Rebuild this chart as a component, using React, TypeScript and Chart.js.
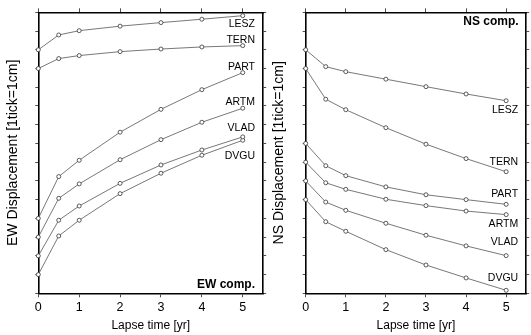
import React, { useEffect, useRef } from "react";
import { Chart, registerables } from "chart.js";

Chart.register(...registerables);

const times = [0, 0.5, 1, 2, 3, 4, 5];
const stations = ["LESZ", "TERN", "PART", "ARTM", "VLAD", "DVGU"];
const xTicks = [0, 1, 2, 3, 4, 5];
const yTicks = [0, 1, 2, 3, 4, 5, 6, 7, 8, 9, 10, 11, 12, 13, 14, 15];

const ewLESZ = [13.0, 13.79, 14.02, 14.26, 14.45, 14.63, 14.82];
const ewTERN = [12.0, 12.53, 12.69, 12.9, 13.04, 13.15, 13.22];
const ewPART = [4.0, 6.23, 7.1, 8.6, 9.82, 10.87, 11.78];
const ewARTM = [3.0, 5.07, 5.84, 7.13, 8.2, 9.13, 9.88];
const ewVLAD = [2.0, 3.9, 4.66, 5.87, 6.85, 7.65, 8.35];
const ewDVGU = [1.0, 3.06, 3.9, 5.32, 6.41, 7.37, 8.17];

const nsLESZ = [13.0, 12.1, 11.83, 11.43, 11.03, 10.64, 10.28];
const nsTERN = [12.0, 10.36, 9.8, 8.84, 7.96, 7.19, 6.49];
const nsPART = [8.0, 6.81, 6.28, 5.68, 5.26, 5.0, 4.75];
const nsARTM = [7.0, 5.9, 5.55, 5.02, 4.68, 4.39, 4.2];
const nsVLAD = [6.0, 4.87, 4.43, 3.74, 3.1, 2.53, 2.01];
const nsDVGU = [5.0, 3.82, 3.31, 2.33, 1.51, 0.82, 0.16];

const ewLabelY = [14.38, 13.49, 12.1, 10.18, 8.84, 7.31];
const nsLabelY = [9.79, 6.99, 5.3, 3.7, 2.72, 0.8];
const labelX = 5.3;

const FONT = "'Liberation Sans', Arial, Helvetica, sans-serif";

type PanelCfg = {
  series: number[][];
  labelY: number[];
  yTitle: string;
  comp: string;
  compX: number;
  compY: number;
  yAxisWidth: number;
  rightWidth: number;
  titlePad: number;
};

function makeChart(canvas: HTMLCanvasElement, cfg: PanelCfg) {
  const labelPlugin = {
    id: "stationLabels",
    afterDatasetsDraw(chart: any) {
      const { ctx, scales } = chart;
      const x = scales.x;
      const y = scales.y;
      ctx.save();
      ctx.fillStyle = "#000";
      ctx.textAlign = "right";
      ctx.textBaseline = "middle";
      ctx.font = `10.5px ${FONT}`;
      stations.forEach((s, i) => {
        ctx.fillText(s, x.getPixelForValue(labelX), y.getPixelForValue(cfg.labelY[i]));
      });
      ctx.font = `bold 12px ${FONT}`;
      ctx.fillText(cfg.comp, x.getPixelForValue(cfg.compX), y.getPixelForValue(cfg.compY));
      ctx.restore();
    },
  };

  const tickGrid = (len: number) => ({
    drawOnChartArea: false,
    drawTicks: true,
    tickLength: len,
    color: "#222",
    lineWidth: 0.8,
  });
  const border = { display: true, color: "#000", width: 1.6 };

  return new Chart(canvas, {
    type: "line",
    data: {
      datasets: cfg.series.map((vals, i) => ({
        label: stations[i],
        data: times.map((t, j) => ({ x: t, y: vals[j] })),
        borderColor: "#555",
        borderWidth: 0.8,
        pointRadius: 2,
        pointBorderWidth: 0.8,
        pointBorderColor: "#333",
        pointBackgroundColor: "#fff",
        clip: false as any,
        tension: 0,
      })),
    },
    options: {
      animation: false,
      responsive: false,
      devicePixelRatio: 1,
      layout: { padding: 0 },
      plugins: { legend: { display: false }, tooltip: { enabled: false } },
      scales: {
        x: {
          type: "linear",
          position: "bottom",
          min: 0,
          max: 5.5,
          afterBuildTicks: (s: any) => {
            s.ticks = xTicks.map((v) => ({ value: v }));
          },
          afterFit: (s: any) => {
            s.height = 41.7;
          },
          grid: tickGrid(4),
          border,
          ticks: {
            color: "#000",
            font: { family: FONT, size: 12.5 },
            padding: 3.2,
            maxRotation: 0,
            callback: (v: any) => String(v),
          },
          title: {
            display: true,
            text: "Lapse time [yr]",
            color: "#000",
            font: { family: FONT, size: 12 },
            padding: { top: 0, bottom: 2 },
          },
        },
        x2: {
          type: "linear",
          position: "top",
          min: 0,
          max: 5.5,
          afterBuildTicks: (s: any) => {
            s.ticks = xTicks.map((v) => ({ value: v }));
          },
          afterFit: (s: any) => {
            s.height = 12.3;
          },
          grid: tickGrid(4),
          border,
          ticks: { display: false },
        },
        y: {
          type: "linear",
          position: "left",
          min: 0,
          max: 15,
          afterBuildTicks: (s: any) => {
            s.ticks = yTicks.map((v) => ({ value: v }));
          },
          afterFit: (s: any) => {
            s.width = cfg.yAxisWidth;
          },
          grid: tickGrid(3),
          border,
          ticks: { display: false },
          title: {
            display: true,
            text: cfg.yTitle,
            color: "#000",
            font: { family: FONT, size: 14 },
            padding: { top: cfg.titlePad, bottom: 0 },
          },
        },
        y2: {
          type: "linear",
          position: "right",
          min: 0,
          max: 15,
          afterBuildTicks: (s: any) => {
            s.ticks = yTicks.map((v) => ({ value: v }));
          },
          afterFit: (s: any) => {
            s.width = cfg.rightWidth;
          },
          grid: tickGrid(3),
          border,
          ticks: { display: false },
        },
      },
    } as any,
    plugins: [labelPlugin],
  });
}

function Panel(props: { cfg: PanelCfg; left: number; width: number }) {
  const ref = useRef<HTMLCanvasElement | null>(null);
  useEffect(() => {
    if (!ref.current) return;
    const chart = makeChart(ref.current, props.cfg);
    return () => chart.destroy();
  }, []);
  return (
    <canvas
      ref={ref}
      width={props.width}
      height={335}
      style={{ position: "absolute", left: props.left, top: 0, width: props.width, height: 335 }}
    />
  );
}

export default function App() {
  const ewCfg: PanelCfg = {
    series: [ewLESZ, ewTERN, ewPART, ewARTM, ewVLAD, ewDVGU],
    labelY: ewLabelY,
    yTitle: "EW Displacement [1tick=1cm]",
    comp: "EW comp.",
    compX: 5.3,
    compY: 0.44,
    yAxisWidth: 38.3,
    rightWidth: 4.7,
    titlePad: 5,
  };
  const nsCfg: PanelCfg = {
    series: [nsLESZ, nsTERN, nsPART, nsARTM, nsVLAD, nsDVGU],
    labelY: nsLabelY,
    yTitle: "NS Displacement [1tick=1cm]",
    comp: "NS comp.",
    compX: 5.31,
    compY: 14.48,
    yAxisWidth: 40.7,
    rightWidth: 1,
    titlePad: 5.5,
  };
  return (
    <div style={{ position: "fixed", left: 0, top: 0, width: 531, height: 335, background: "#fff", overflow: "hidden" }}>
      <Panel cfg={ewCfg} left={0} width={268} />
      <Panel cfg={nsCfg} left={265} width={266} />
    </div>
  );
}
